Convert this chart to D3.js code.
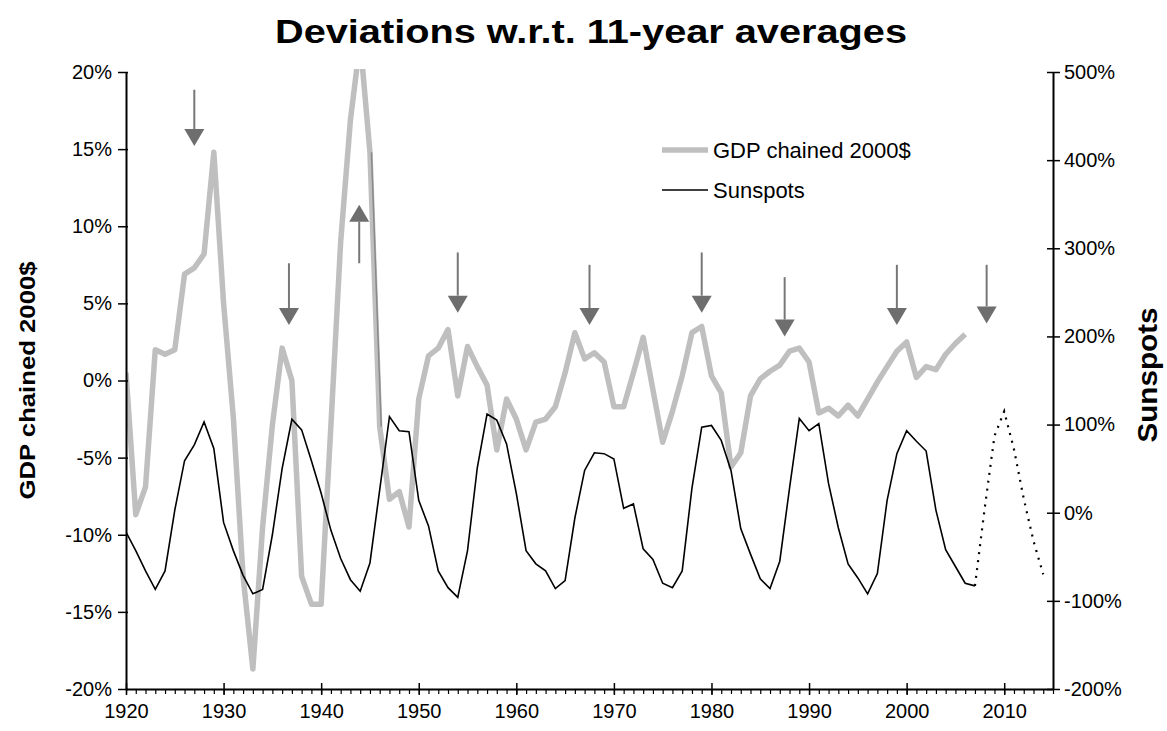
<!DOCTYPE html>
<html>
<head>
<meta charset="utf-8">
<script src="https://cdn.jsdelivr.net/npm/d3@7"></script>
<style>
  body { margin: 0; background: #fff; }
  text { font-family: "Liberation Sans", Arial, sans-serif; }
</style>
</head>
<body>
<div id="chart"></div>
<script>
// GDP deviation (%), 1920-2006
const gdpYears = d3.range(1920, 2007);
const gdpValues = [
  0.5, -8.7, -6.9, 2.0, 1.7, 2.0, 6.9, 7.3, 8.2, 14.8,
  5.0, -2.4, -12.7, -18.7, -9.5, -2.9, 2.1, 0.0, -12.7, -14.5,
  -14.5, -2.9, 9.0, 16.9, 22.0, 14.8, -3.0, -7.7, -7.2, -9.5,
  -1.2, 1.6, 2.1, 3.3, -1.0, 2.2, 0.9, -0.3, -4.5, -1.2,
  -2.5, -4.5, -2.7, -2.5, -1.7, 0.5, 3.1, 1.4, 1.8, 1.2,
  -1.7, -1.7, 0.5, 2.8, -0.6, -4.0, -2.0, 0.3, 3.1, 3.5,
  0.3, -0.8, -5.6, -4.7, -1.0, 0.1, 0.6, 1.0, 1.9, 2.1,
  1.2, -2.1, -1.8, -2.3, -1.6, -2.3, -1.2, -0.1, 0.9, 1.9,
  2.5, 0.2, 0.9, 0.7, 1.7, 2.4, 3.0
];

// Sunspot deviation (%), 1920-2007
const sunYears = d3.range(1920, 2008);
const sunValues = [
  -22, -43, -66, -87, -66, 3, 59, 77, 103, 73,
  -11, -43, -71, -92, -87, -25, 50, 106, 94, 59,
  22, -20, -52, -76, -89, -57, 26, 109, 93, 92,
  14, -15, -66, -85, -96, -43, 51, 112, 105, 78,
  22, -43, -58, -66, -86, -77, -6, 48, 68, 67,
  61, 5, 10, -41, -53, -80, -85, -66, 28, 97,
  99, 82, 48, -18, -47, -75, -86, -55, 28, 107,
  93, 101, 33, -17, -58, -74, -92, -69, 14, 67,
  93, 81, 70, 3, -42, -61, -80, -83
];

// forecast (dotted)
const forecastYears = d3.range(2007, 2015);
const forecastValues = [-83, 5, 87, 115, 72, 16, -32, -70];

// annotation arrows (left-axis units)
const arrowYears = [1927, 1936.7, 1943.9, 1954, 1967.5, 1979, 1987.5, 1999, 2008.2];
const arrowFrom  = [18.85, 7.6, 7.6, 8.3, 7.5, 8.3, 6.7, 7.5, 7.5];
const arrowTo    = [15.2, 3.6, 11.4, 4.4, 3.6, 4.4, 2.85, 3.6, 3.7];

const highlightYears = [1945, 1946];

const leftTicks = [-20, -15, -10, -5, 0, 5, 10, 15, 20];
const rightTicks = [-200, -100, 0, 100, 200, 300, 400, 500];
const decadeTicks = d3.range(1920, 2011, 10);

const W = 1167, H = 731;
const margin = { top: 72, right: 114, bottom: 42, left: 126 };
const width = W - margin.left - margin.right;
const height = H - margin.top - margin.bottom;

const svg = d3.select("#chart").append("svg")
  .attr("width", W).attr("height", H);

const g = svg.append("g")
  .attr("transform", `translate(${margin.left}, ${margin.top})`);

const x = d3.scaleLinear().domain([1920, 2015]).range([0, width]);
const yL = d3.scaleLinear().domain([-20, 20]).range([height, 0]);
const yR = d3.scaleLinear().domain([-200, 500]).range([height, 0]);

g.append("clipPath").attr("id", "clip")
  .append("rect").attr("x", 0).attr("y", -3).attr("width", width).attr("height", height + 4);

const plot = g.append("g").attr("clip-path", "url(#clip)");

// GDP line
const gdpData = gdpYears.map((yr, i) => ({ yr, v: gdpValues[i] }));
const gdpLine = d3.line().x(d => x(d.yr)).y(d => yL(d.v));
plot.append("path").datum(gdpData)
  .attr("fill", "none").attr("stroke", "#bfbfbf")
  .attr("stroke-width", 5.5).attr("stroke-linejoin", "round")
  .attr("d", gdpLine);
plot.append("path").datum(gdpData.filter(d => highlightYears.includes(d.yr)))
  .attr("fill", "none").attr("stroke", "#8a8a8a")
  .attr("stroke-width", 1.5)
  .attr("transform", "translate(1.5,0)")
  .attr("d", gdpLine);

// Sunspots
const sunData = sunYears.map((yr, i) => ({ yr, v: sunValues[i] }));
const sunLine = d3.line().x(d => x(d.yr)).y(d => yR(d.v));
plot.append("path").datum(sunData)
  .attr("fill", "none").attr("stroke", "#000")
  .attr("stroke-width", 1.6)
  .attr("d", sunLine);

const fcData = forecastYears.map((yr, i) => ({ yr, v: forecastValues[i] }));
plot.append("path").datum(fcData)
  .attr("fill", "none").attr("stroke", "#000")
  .attr("stroke-width", 2.2).attr("stroke-dasharray", "2,6")
  .attr("d", sunLine);

// arrows
arrowYears.forEach((yr, i) => {
  const ax = x(yr);
  const y0 = yL(arrowFrom[i]), y1 = yL(arrowTo[i]);
  const dir = y1 > y0 ? 1 : -1;
  const headLen = 17, headW = 10;
  g.append("line")
    .attr("x1", ax).attr("x2", ax)
    .attr("y1", y0).attr("y2", y1 - dir * headLen)
    .attr("stroke", "#777").attr("stroke-width", 2);
  g.append("path")
    .attr("d", `M${ax - headW},${y1 - dir * headLen} L${ax + headW},${y1 - dir * headLen} L${ax},${y1} Z`)
    .attr("fill", "#6e6e6e");
});

// axes
const axisStyle = sel => {
  sel.select(".domain").attr("stroke", "#000").attr("stroke-width", 2);
  sel.selectAll(".tick line").attr("stroke", "#000").attr("stroke-width", 1.5);
  sel.selectAll(".tick text").attr("font-size", 20).attr("fill", "#000")
    .attr("font-family", "'Liberation Sans', Arial, sans-serif");
};

const xMinor = g.append("g").attr("transform", `translate(0, ${height})`)
  .call(d3.axisBottom(x).tickValues(d3.range(1920, 2016)).tickSize(5).tickFormat(""));
xMinor.select(".domain").remove();
xMinor.selectAll(".tick line").attr("stroke", "#000").attr("stroke-width", 1.2);

const xAxis = g.append("g").attr("transform", `translate(0, ${height})`)
  .call(d3.axisBottom(x).tickValues(decadeTicks).tickSizeInner(6).tickSizeOuter(0)
    .tickPadding(9).tickFormat(d3.format("d")));
xAxis.call(axisStyle);
xAxis.selectAll(".tick line").attr("y1", -6);

const lAxis = g.append("g")
  .call(d3.axisLeft(yL).tickValues(leftTicks).tickSizeInner(8).tickSizeOuter(0)
    .tickPadding(6).tickFormat(d => d + "%"));
lAxis.call(axisStyle);
lAxis.selectAll(".tick line").attr("x1", 2);

const rAxis = g.append("g").attr("transform", `translate(${width}, 0)`)
  .call(d3.axisRight(yR).tickValues(rightTicks).tickSizeInner(7).tickSizeOuter(0)
    .tickPadding(4).tickFormat(d => d + "%"));
rAxis.call(axisStyle);
rAxis.selectAll(".tick line").attr("x1", -6);

// title
svg.append("text")
  .attr("x", 591).attr("y", 43)
  .attr("text-anchor", "middle")
  .attr("font-size", 34).attr("font-weight", "bold")
  .attr("textLength", 632).attr("lengthAdjust", "spacingAndGlyphs")
  .text("Deviations w.r.t. 11-year averages");

// axis titles
svg.append("text")
  .attr("transform", `translate(35, ${margin.top + yL(0)}) rotate(-90)`)
  .attr("text-anchor", "middle")
  .attr("font-size", 22).attr("font-weight", "bold")
  .attr("font-family", "'Liberation Sans Narrow', 'Liberation Sans', Arial, sans-serif")
  .attr("textLength", 238).attr("lengthAdjust", "spacingAndGlyphs")
  .text("GDP chained 2000$");

svg.append("text")
  .attr("transform", `translate(1157, 375) rotate(-90)`)
  .attr("text-anchor", "middle")
  .attr("font-size", 28).attr("font-weight", "bold")
  .attr("textLength", 135).attr("lengthAdjust", "spacingAndGlyphs")
  .text("Sunspots");

// legend
const legend = svg.append("g").attr("transform", "translate(662, 150)");
legend.append("line").attr("x1", 0).attr("x2", 46).attr("y1", 0).attr("y2", 0)
  .attr("stroke", "#bfbfbf").attr("stroke-width", 5.5);
legend.append("text").attr("x", 51).attr("y", 8)
  .attr("font-size", 22).text("GDP chained 2000$");
legend.append("line").attr("x1", 0).attr("x2", 46).attr("y1", 40).attr("y2", 40)
  .attr("stroke", "#000").attr("stroke-width", 1.6);
legend.append("text").attr("x", 51).attr("y", 48)
  .attr("font-size", 22).text("Sunspots");
</script>
</body>
</html>
